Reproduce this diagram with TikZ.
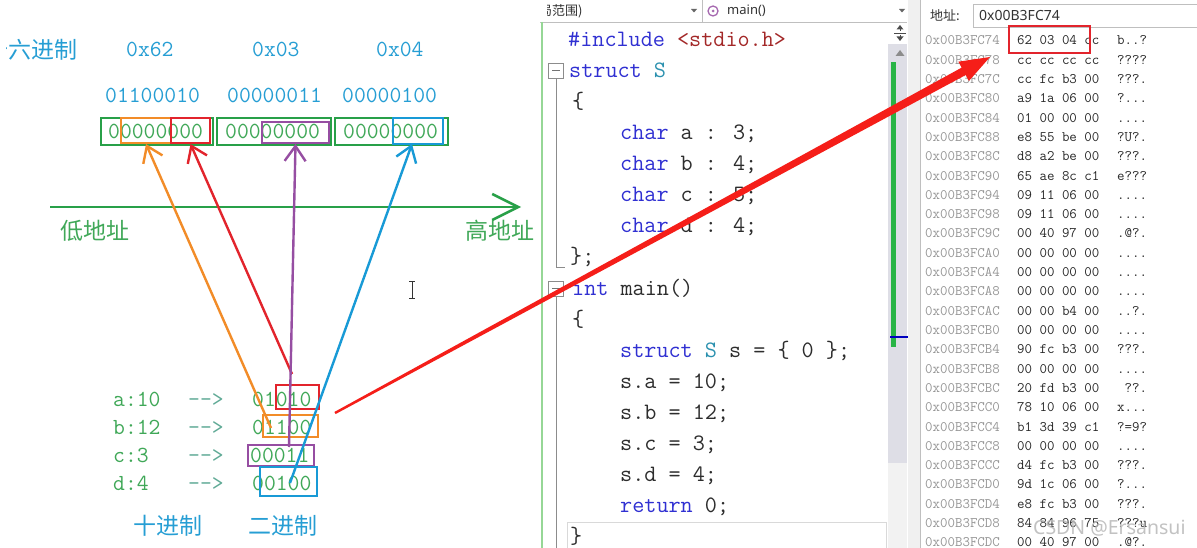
\documentclass[tikz,border=0pt]{standalone}
\usepackage{fontspec}
\newfontfamily\cjk{Noto Sans CJK SC}
\newfontfamily\uif{Noto Sans}
\usetikzlibrary{arrows.meta,calc}
\definecolor{hexblue}{RGB}{38,158,212}
\definecolor{txgreen}{RGB}{64,168,88}
\definecolor{boxgreen}{RGB}{40,160,72}
\definecolor{arrteal}{RGB}{96,170,150}
\definecolor{cor}{RGB}{242,140,40}
\definecolor{cred}{RGB}{226,36,44}
\definecolor{cpur}{RGB}{150,78,162}
\definecolor{cblu}{RGB}{24,154,214}
\definecolor{bigred}{RGB}{245,30,25}
\definecolor{kw}{RGB}{48,48,210}
\definecolor{ty}{RGB}{43,145,175}
\definecolor{strc}{RGB}{163,40,40}
\definecolor{codetx}{RGB}{45,45,45}
\definecolor{addrc}{RGB}{150,150,150}
\definecolor{bytec}{RGB}{40,40,40}
\definecolor{track}{RGB}{222,222,230}
\definecolor{gbar}{RGB}{40,180,70}
\definecolor{margin}{RGB}{150,215,150}
\newcommand\DT{.}
\tikzset{
 big/.style={font=\fontsize{23}{23}\selectfont\ttfamily, inner sep=0pt, anchor=base west},
 zh/.style={font=\fontsize{23}{23}\selectfont\cjk, inner sep=0pt, anchor=west},
 code/.style={font=\fontsize{23.5}{23.5}\selectfont\ttfamily, inner sep=0pt, anchor=base west, text=codetx},
 mem/.style={font=\fontsize{14.5}{14.5}\selectfont\ttfamily, inner sep=0pt, anchor=base west},
 ui/.style={font=\fontsize{13}{13}\selectfont\uif, inner sep=0pt, anchor=west, text=black!80},
 uizh/.style={font=\fontsize{13}{13}\selectfont\cjk, inner sep=0pt, anchor=west, text=black!80},
 bitbox/.style={draw, line width=2pt, inner sep=0pt},
 bytebox/.style={draw=boxgreen, line width=2.8pt, inner sep=0pt},
 tipbarb/.style={-{Straight Barb[length=15pt,width=21pt]}, line width=2.4pt},
 fold/.style={draw=black!45, line width=0.8pt, minimum size=15pt, inner sep=0pt},
}
\begin{document}
\begin{tikzpicture}[x=1pt,y=-1pt]
\useasboundingbox (0,0) rectangle (1197,548);
\begin{scope}
\clip (0,0) rectangle (1197,548);
\fill[white] (0,0) rectangle (1197,548);

% ---------------- left diagram ----------------
\begin{scope}
\clip (6,0) rectangle (120,80);
\node[zh, text=hexblue] (hexlab) at (-15,50) {十六进制};
\end{scope}
\node[big, text=hexblue] (h1) at (126,57) {0x62};
\node[big, text=hexblue] (h2) at (252,57) {0x03};
\node[big, text=hexblue] (h3) at (376,57) {0x04};
\node[big, text=hexblue] (b1) at (105,103) {01100010};
\node[big, text=hexblue] (b2) at (227,103) {00000011};
\node[big, text=hexblue] (b3) at (342,103) {00000100};

\node[big, text=txgreen] (z1) at (108,139) {00000000};
\node[big, text=txgreen] (z2) at (225,139) {00000000};
\node[big, text=txgreen] (z3) at (343,139) {00000000};

\node[bytebox, minimum width=112pt, minimum height=27pt] (g1) at (157,131.5) {};
\node[bytebox, minimum width=114pt, minimum height=27pt] (g2) at (274,131.5) {};
\node[bytebox, minimum width=113pt, minimum height=27pt] (g3) at (391.5,131.5) {};

\node[bitbox, draw=cor, minimum width=50pt, minimum height=25pt] (ot) at (146,130.5) {};
\node[bitbox, draw=cred, minimum width=39pt, minimum height=25pt] (rt) at (190.5,130.5) {};
\node[bitbox, draw=cpur, minimum width=67pt, minimum height=21pt] (pt) at (295.5,132.5) {};
\node[bitbox, draw=cblu, minimum width=50pt, minimum height=26pt] (bt) at (418,131) {};

% axis
\coordinate (axL) at (50,207);
\coordinate (axR) at (521,207);
\draw[boxgreen, line width=2.5pt, -{Straight Barb[length=26pt,width=26pt]}] (axL) -- (axR);
\node[zh, text=txgreen] (low) at (60,231) {低地址};
\node[zh, text=txgreen] (high) at (465,231) {高地址};

% bottom rows
\node[big, text=txgreen] (da) at (113,406) {a:10};
\node[big, text=txgreen] (db) at (113,434) {b:12};
\node[big, text=txgreen] (dc) at (113,462) {c:3};
\node[big, text=txgreen] (dd) at (113,490) {d:4};
\node[big, text=arrteal] (ra) at (188,406) {-{}->};
\node[big, text=arrteal] (rb) at (188,434) {-{}->};
\node[big, text=arrteal] (rc) at (188,462) {-{}->};
\node[big, text=arrteal] (rd) at (188,490) {-{}->};
\node[big, text=txgreen] (na) at (252,406) {01010};
\node[big, text=txgreen] (nb) at (252,434) {01100};
\node[big, text=txgreen] (nc) at (250,462) {00011};
\node[big, text=txgreen] (nd) at (252,490) {00100};
\node[zh, text=hexblue] (dec) at (133,526) {十进制};
\node[zh, text=hexblue] (bin) at (248,526) {二进制};

\node[bitbox, draw=cred, minimum width=43pt, minimum height=24pt] (rbx) at (297.5,397) {};
\node[bitbox, draw=cor, minimum width=55pt, minimum height=22pt] (obx) at (290.5,426) {};
\node[bitbox, draw=cpur, minimum width=66pt, minimum height=21pt] (pbx) at (281,455.5) {};
\node[bitbox, draw=cblu, minimum width=57pt, minimum height=29pt] (bbx) at (288.5,481.5) {};

\coordinate (oS) at (271,428);
\coordinate (rS) at (292,374);
\coordinate (pS) at (289,447);
\coordinate (bS) at (290,483);
\coordinate (bT) at (412,144);
\draw[tipbarb, draw=cor] (oS) -- (ot.south);
\draw[tipbarb, draw=cred] (rS) -- (rt.south);
\draw[tipbarb, draw=cpur] (pS) -- (pt.south);
\draw[tipbarb, draw=cblu] (bS) -- (bT);

% I-beam cursor
\draw[black!80, line width=0.8pt] (412,282) -- (412,298) (409,281.5) -- (415,281.5) (409,298.5) -- (415,298.5);

% ---------------- code editor ----------------
\draw[black!25] (540,22) -- (907,22);
\draw[black!25] (702,0) -- (702,22);
\begin{scope}
\clip (547,0) rectangle (690,22);
\node[uizh] (scopebox) at (539,11) {局范围)};
\end{scope}
\fill[black!60] (691,9) -- (697,9) -- (694,12.5) -- cycle;
\fill[black!60] (899,9) -- (905,9) -- (902,12.5) -- cycle;
\node[circle, draw=cpur!85, line width=1.3pt, minimum size=10pt, inner sep=0pt] (icon) at (713,11) {};
\node[circle, fill=cpur!85, minimum size=3pt, inner sep=0pt] (icondot) at (713,11) {};
\node[ui] (mainbox) at (727,11) {main()};

\draw[margin, line width=1.5pt] (542,22) -- (542,548);
\node[fold] (f1) at (556,70.5) {};
\draw[black!55, line width=0.9pt] (552,70.5) -- (560,70.5);
\draw[black!45, line width=0.9pt] (f1.south) -- (556,267) -- (565,267);
\node[fold] (f2) at (556,288.5) {};
\draw[black!55, line width=0.9pt] (552,288.5) -- (560,288.5);
\draw[black!45, line width=0.9pt] (f2.south) -- (556,548);

\node[code] (c0) at (568,47) {{\color{kw}\#include} {\color{strc}<stdio.h>}};
\node[code] (c1) at (569,78) {{\color{kw}struct} {\color{ty}S}};
\node[code] (c2) at (572,109) {\{};
\node[code] (c3) at (620,140) {{\color{kw}char} a : 3;};
\node[code] (c4) at (620,171) {{\color{kw}char} b : 4;};
\node[code] (c5) at (620,202) {{\color{kw}char} c : 5;};
\node[code] (c6) at (620,233) {{\color{kw}char} d : 4;};
\node[code] (c7) at (570,264) {\};};
\node[code] (c8) at (572,295) {{\color{kw}int} main()};
\node[code] (c9) at (572,326) {\{};
\node[code] (c10) at (620,357) {{\color{kw}struct} {\color{ty}S} s = \{ 0 \};};
\node[code] (c11) at (620,388) {s.a = 10;};
\node[code] (c12) at (620,419) {s.b = 12;};
\node[code] (c13) at (620,450) {s.c = 3;};
\node[code] (c14) at (620,481) {s.d = 4;};
\node[code] (c15) at (620,512) {{\color{kw}return} 0;};
\node[code] (c16) at (570,543) {\}};
\draw[black!15, line width=1pt] (567,560) -- (567,522) -- (886,522) -- (886,560);

% scrollbar
\fill[track] (888,44) rectangle (907,463);
\fill[black!5] (888,463) rectangle (907,548);
\draw[black!70, line width=0.9pt] (894,33) -- (906,33) (900,29) -- (900,31) (900,35) -- (900,37);
\fill[black!70] (900,25) -- (896.5,29.5) -- (903.5,29.5) -- cycle;
\fill[black!70] (900,41) -- (896.5,36.5) -- (903.5,36.5) -- cycle;
\fill[black!45] (900,50) -- (904.5,56) -- (895.5,56) -- cycle;
\fill[gbar] (891,62) rectangle (895.5,347);
\draw[blue!75!black, line width=1.6pt] (890,337) -- (911,337);

% separator
\fill[black!6] (908,0) rectangle (920,548);
\draw[black!25] (920,0) -- (920,548);

% ---------------- memory window ----------------
\node[uizh] (addrlab) at (930,15) {地址:};
\draw[black!25, fill=white] (973,4) rectangle (1200,27);
\node[ui, font=\fontsize{14}{14}\selectfont\uif] (addrval) at (979,15.5) {0x00B3FC74};

\foreach \ad/\by/\as [count=\i from 0] in {C74/62 03 04 cc/b\DT\DT?, C78/cc cc cc cc/????, C7C/cc fc b3 00/???\DT, C80/a9 1a 06 00/?\DT\DT\DT, C84/01 00 00 00/\DT\DT\DT\DT, C88/e8 55 be 00/?U?\DT, C8C/d8 a2 be 00/???\DT, C90/65 ae 8c c1/e???, C94/09 11 06 00/\DT\DT\DT\DT, C98/09 11 06 00/\DT\DT\DT\DT, C9C/00 40 97 00/\DT@?\DT, CA0/00 00 00 00/\DT\DT\DT\DT, CA4/00 00 00 00/\DT\DT\DT\DT, CA8/00 00 00 00/\DT\DT\DT\DT, CAC/00 00 b4 00/\DT\DT?\DT, CB0/00 00 00 00/\DT\DT\DT\DT, CB4/90 fc b3 00/???\DT, CB8/00 00 00 00/\DT\DT\DT\DT, CBC/20 fd b3 00/~??\DT, CC0/78 10 06 00/x\DT\DT\DT, CC4/b1 3d 39 c1/?=9?, CC8/00 00 00 00/\DT\DT\DT\DT, CCC/d4 fc b3 00/???\DT, CD0/9d 1c 06 00/?\DT\DT\DT, CD4/e8 fc b3 00/???\DT, CD8/84 84 96 75/???u, CDC/00 40 97 00/\DT@?\DT}{
  \node[mem, text=addrc] (ma\i) at (925,{45+19.3*\i}) {0x00B3F\ad};
  \node[mem, text=bytec] (mb\i) at (1017,{45+19.3*\i}) {\by};
  \node[mem, text=bytec] (mc\i) at (1117,{45+19.3*\i}) {\as};
}
\node[draw=cred, line width=2.5pt, minimum width=81pt, minimum height=27pt, inner sep=0pt] (hl) at (1049.5,39.5) {};

% ---------------- big red arrow ----------------
\coordinate (RA) at (335,413);
\coordinate (RB) at (990,57);
\coordinate (RH) at ($(RB)!30pt!(RA)$);
\fill[bigred] ($(RA)!1.2pt!90:(RB)$) -- ($(RH)!4.2pt!90:(RB)$) -- ($(RH)!11pt!90:(RB)$) -- (RB) -- ($(RH)!11pt!-90:(RB)$) -- ($(RH)!4.2pt!-90:(RB)$) -- ($(RA)!1.2pt!-90:(RB)$) -- cycle;

% watermark
\node[font=\fontsize{19.5}{19.5}\selectfont\uif, text=black!28, opacity=0.85, inner sep=0pt, anchor=west] (wm) at (1033,528) {CSDN @Ersansui};
\end{scope}
\end{tikzpicture}
\end{document}
